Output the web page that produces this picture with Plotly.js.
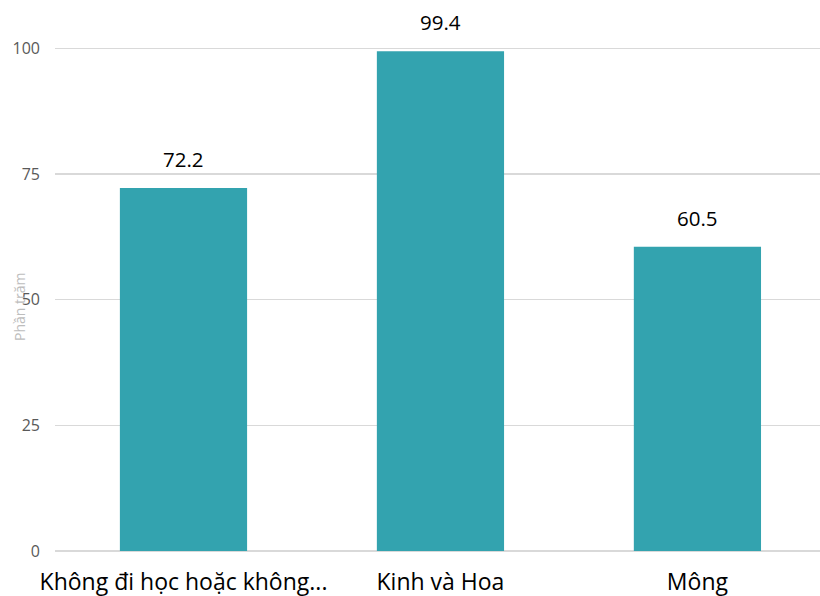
<!DOCTYPE html>
<html>
<head>
<meta charset="utf-8">
<script src="https://cdn.plot.ly/plotly-3.0.1.min.js"></script>
<style>html,body{margin:0;padding:0;background:#fff;overflow:hidden}</style>
</head>
<body>
<div id="chart" style="width:820px;height:596px"></div>
<script>
var categories = ["Không đi học hoặc không...", "Kinh và Hoa", "Mông"];
var values = [72.2, 99.4, 60.5];
var valueLabels = ["72.2", "99.4", "60.5"];
var yTicks = [0, 25, 50, 75, 100];
var yTickLabels = ["0", "25", "50", "75", "100"];

var trace = {
  type: "bar",
  x: categories,
  y: values,
  width: 0.495,
  marker: {color: "#33A3AF"},
  hoverinfo: "x+y"
};

var annotations = categories.map(function(c, i) {
  return {
    x: c, y: values[i], xref: "x", yref: "y",
    text: valueLabels[i], showarrow: false,
    yanchor: "bottom", yshift: 13,
    font: {family: "Open Sans", size: 20.5, color: "#000"}
  };
});
annotations.push({
  xref: "paper", yref: "paper", x: (19 - 55) / 765, y: (551 - 307) / 551,
  text: "Phần trăm", textangle: -90, showarrow: false,
  xanchor: "center", yanchor: "middle",
  font: {family: "Open Sans", size: 14, color: "#bdbdbd"}
});

var layout = {
  width: 820, height: 596,
  margin: {l: 55, r: 0, t: 0, b: 45},
  paper_bgcolor: "#fff", plot_bgcolor: "#fff",
  showlegend: false,
  xaxis: {
    type: "category",
    range: [-0.5, 2.477],
    showgrid: false, zeroline: false, showline: false,
    ticks: "",
    ticklabelstandoff: 15,
    tickfont: {family: "Open Sans", size: 23, color: "#000"}
  },
  yaxis: {
    range: [0, 109.6],
    tickvals: yTicks, ticktext: yTickLabels,
    showgrid: true, gridcolor: "#d9d9d9", gridwidth: 1.3,
    zeroline: true, zerolinecolor: "#d9d9d9", zerolinewidth: 1.3,
    showline: false, ticks: "",
    ticklabelstandoff: 14,
    tickfont: {family: "Open Sans", size: 16, color: "#595959"}
  },
  annotations: annotations
};

Plotly.newPlot("chart", [trace], layout, {displayModeBar: false, staticPlot: true});
</script>
</body>
</html>
